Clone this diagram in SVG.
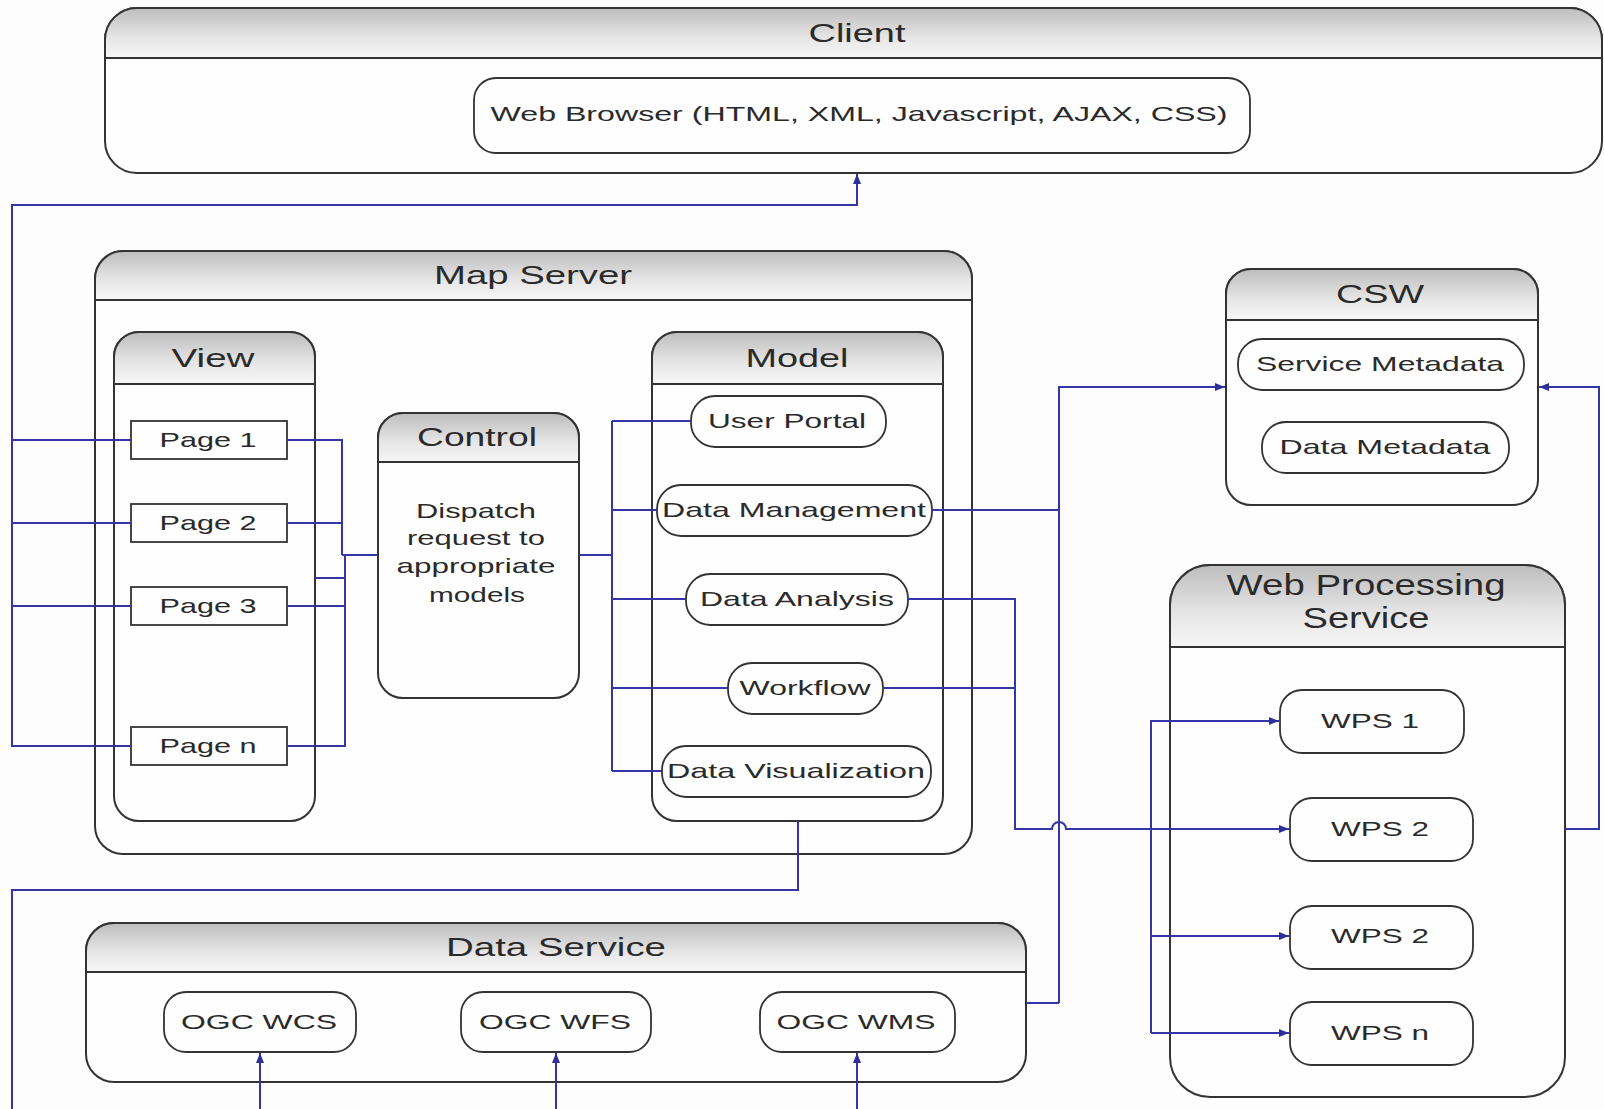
<svg xmlns="http://www.w3.org/2000/svg" width="1604" height="1109" viewBox="0 0 1604 1109">
<defs>
<linearGradient id="hg" x1="0" y1="0" x2="0" y2="1">
<stop offset="0" stop-color="#bdbdbd"/>
<stop offset="0.6" stop-color="#e6e6e6"/>
<stop offset="1" stop-color="#f7f7f7"/>
</linearGradient>
<marker id="ar" markerUnits="userSpaceOnUse" markerWidth="10" markerHeight="8" refX="10" refY="4" orient="auto">
<path d="M0,0 L10,4 L0,8 Z" fill="#2f2f9a"/>
</marker>
</defs>
<style>
.box{fill:#fefefe;stroke:#333;stroke-width:2}
.hdr{fill:url(#hg);stroke:#333;stroke-width:2}
.itm{fill:#fefefe;stroke:#333;stroke-width:1.8}
.t{font-family:"Liberation Sans",Arial,sans-serif;fill:#2a2a2a;text-anchor:middle;font-size:21px}
.ti{font-family:"Liberation Sans",Arial,sans-serif;fill:#2a2a2a;text-anchor:middle;font-size:26px}
.c{fill:none;stroke:#3535a8;stroke-width:2}
</style>
<rect width="1604" height="1109" fill="#fdfdfd"/>

<g id="client">
<rect class="box" x="105" y="8" width="1497" height="165" rx="32"/>
<path class="hdr" d="M105,58 V40 A32,32 0 0 1 137,8 H1570 A32,32 0 0 1 1602,40 V58 Z"/>
<text class="ti" x="857" y="42" textLength="97" lengthAdjust="spacingAndGlyphs">Client</text>
</g>
<g id="web-browser">
<rect class="itm" x="474" y="78" width="776" height="75" rx="22"/>
<text class="t" x="859" y="121" textLength="737" lengthAdjust="spacingAndGlyphs">Web Browser (HTML, XML, Javascript, AJAX, CSS)</text>
</g>

<g id="map-server">
<rect class="box" x="95" y="251" width="877" height="603" rx="28"/>
<path class="hdr" d="M95,300 V279 A28,28 0 0 1 123,251 H944 A28,28 0 0 1 972,279 V300 Z"/>
<text class="ti" x="533" y="284" textLength="198" lengthAdjust="spacingAndGlyphs">Map Server</text>
</g>
<g id="view">
<rect class="box" x="114" y="332" width="201" height="489" rx="25"/>
<path class="hdr" d="M114,384 V357 A25,25 0 0 1 139,332 H290 A25,25 0 0 1 315,357 V384 Z"/>
<text class="ti" x="213" y="367" textLength="83" lengthAdjust="spacingAndGlyphs">View</text>
</g>
<g id="page-1"><rect class="itm" x="131" y="421" width="156" height="38"/><text class="t" x="208" y="447" textLength="97" lengthAdjust="spacingAndGlyphs">Page 1</text></g>
<g id="page-2"><rect class="itm" x="131" y="504" width="156" height="38"/><text class="t" x="208" y="530" textLength="97" lengthAdjust="spacingAndGlyphs">Page 2</text></g>
<g id="page-3"><rect class="itm" x="131" y="587" width="156" height="38"/><text class="t" x="208" y="613" textLength="97" lengthAdjust="spacingAndGlyphs">Page 3</text></g>
<g id="page-n"><rect class="itm" x="131" y="727" width="156" height="38"/><text class="t" x="208" y="753" textLength="97" lengthAdjust="spacingAndGlyphs">Page n</text></g>

<g id="control">
<rect class="box" x="378" y="413" width="201" height="285" rx="25"/>
<path class="hdr" d="M378,462 V438 A25,25 0 0 1 403,413 H554 A25,25 0 0 1 579,438 V462 Z"/>
<text class="ti" x="477" y="446" textLength="120" lengthAdjust="spacingAndGlyphs">Control</text>
<text class="t" x="476" y="518" textLength="120" lengthAdjust="spacingAndGlyphs">Dispatch</text>
<text class="t" x="476" y="545" textLength="138" lengthAdjust="spacingAndGlyphs">request to</text>
<text class="t" x="476" y="573" textLength="159" lengthAdjust="spacingAndGlyphs">appropriate</text>
<text class="t" x="477" y="602" textLength="96" lengthAdjust="spacingAndGlyphs">models</text>
</g>

<g id="model">
<rect class="box" x="652" y="332" width="291" height="489" rx="25"/>
<path class="hdr" d="M652,384 V357 A25,25 0 0 1 677,332 H918 A25,25 0 0 1 943,357 V384 Z"/>
<text class="ti" x="797" y="367" textLength="103" lengthAdjust="spacingAndGlyphs">Model</text>
</g>
<g id="user-portal"><rect class="itm" x="691" y="396" width="195" height="51" rx="24"/><text class="t" x="787" y="428" textLength="158" lengthAdjust="spacingAndGlyphs">User Portal</text></g>
<g id="data-management"><rect class="itm" x="657" y="485" width="275" height="51" rx="24"/><text class="t" x="794" y="517" textLength="264" lengthAdjust="spacingAndGlyphs">Data Management</text></g>
<g id="data-analysis"><rect class="itm" x="686" y="574" width="222" height="51" rx="24"/><text class="t" x="797" y="606" textLength="194" lengthAdjust="spacingAndGlyphs">Data Analysis</text></g>
<g id="workflow"><rect class="itm" x="728" y="663" width="155" height="51" rx="24"/><text class="t" x="805" y="695" textLength="131" lengthAdjust="spacingAndGlyphs">Workflow</text></g>
<g id="data-visualization"><rect class="itm" x="662" y="746" width="269" height="51" rx="24"/><text class="t" x="796" y="778" textLength="258" lengthAdjust="spacingAndGlyphs">Data Visualization</text></g>

<g id="csw">
<rect class="box" x="1226" y="269" width="312" height="236" rx="25"/>
<path class="hdr" d="M1226,320 V294 A25,25 0 0 1 1251,269 H1513 A25,25 0 0 1 1538,294 V320 Z"/>
<text class="ti" x="1380" y="303" textLength="88" lengthAdjust="spacingAndGlyphs">CSW</text>
</g>
<g id="service-metadata"><rect class="itm" x="1238" y="339" width="286" height="51" rx="24"/><text class="t" x="1380" y="371" textLength="248" lengthAdjust="spacingAndGlyphs">Service Metadata</text></g>
<g id="data-metadata"><rect class="itm" x="1262" y="422" width="247" height="51" rx="24"/><text class="t" x="1385" y="454" textLength="211" lengthAdjust="spacingAndGlyphs">Data Metadata</text></g>

<g id="wps">
<rect class="box" x="1170" y="565" width="395" height="532" rx="40"/>
<path class="hdr" d="M1170,647 V605 A40,40 0 0 1 1210,565 H1525 A40,40 0 0 1 1565,605 V647 Z"/>
<text class="ti" x="1366" y="595" textLength="279" lengthAdjust="spacingAndGlyphs" style="font-size:29px">Web Processing</text>
<text class="ti" x="1366" y="628" textLength="127" lengthAdjust="spacingAndGlyphs" style="font-size:29px">Service</text>
</g>
<g id="wps-1"><rect class="itm" x="1280" y="690" width="184" height="63" rx="22"/><text class="t" x="1370" y="728" textLength="98" lengthAdjust="spacingAndGlyphs">WPS 1</text></g>
<g id="wps-2"><rect class="itm" x="1290" y="798" width="183" height="63" rx="22"/><text class="t" x="1380" y="836" textLength="98" lengthAdjust="spacingAndGlyphs">WPS 2</text></g>
<g id="wps-2b"><rect class="itm" x="1290" y="906" width="183" height="63" rx="22"/><text class="t" x="1380" y="943" textLength="98" lengthAdjust="spacingAndGlyphs">WPS 2</text></g>
<g id="wps-n"><rect class="itm" x="1290" y="1002" width="183" height="63" rx="22"/><text class="t" x="1380" y="1040" textLength="98" lengthAdjust="spacingAndGlyphs">WPS n</text></g>

<g id="data-service">
<rect class="box" x="86" y="923" width="940" height="159" rx="28"/>
<path class="hdr" d="M86,972 V951 A28,28 0 0 1 114,923 H998 A28,28 0 0 1 1026,951 V972 Z"/>
<text class="ti" x="556" y="956" textLength="220" lengthAdjust="spacingAndGlyphs">Data Service</text>
</g>
<g id="ogc-wcs"><rect class="itm" x="164" y="992" width="192" height="60" rx="22"/><text class="t" x="259" y="1029" textLength="156" lengthAdjust="spacingAndGlyphs">OGC WCS</text></g>
<g id="ogc-wfs"><rect class="itm" x="461" y="992" width="190" height="60" rx="22"/><text class="t" x="555" y="1029" textLength="152" lengthAdjust="spacingAndGlyphs">OGC WFS</text></g>
<g id="ogc-wms"><rect class="itm" x="760" y="992" width="195" height="60" rx="22"/><text class="t" x="856" y="1029" textLength="159" lengthAdjust="spacingAndGlyphs">OGC WMS</text></g>

<g id="connectors">
<path class="c" d="M131,746 H12 V205 H857 V174" marker-end="url(#ar)"/>
<path class="c" d="M12,440 H131 M12,523 H131 M12,606 H131"/>
<path class="c" d="M287,440 H342 V555 M287,523 H342 M342,555 H378 M287,606 H345 M287,746 H345 V555 M315,578 H345"/>
<path class="c" d="M579,555 H612 M612,421 V771 M612,421 H691 M612,510 H657 M612,599 H686 M612,688 H728 M612,771 H662"/>
<path class="c" d="M932,510 H1059 M1026,1003 H1059"/>
<path class="c" d="M1059,1003 V387 H1225" marker-end="url(#ar)"/>
<path class="c" d="M883,688 H1015"/>
<path class="c" d="M908,599 H1015 V829 H1052 A7,7 0 0 1 1066,829 H1289" marker-end="url(#ar)"/>
<path class="c" d="M1151,720 V1033"/>
<path class="c" d="M1151,721 H1279" marker-end="url(#ar)"/>
<path class="c" d="M1151,936 H1289" marker-end="url(#ar)"/>
<path class="c" d="M1151,1033 H1289" marker-end="url(#ar)"/>
<path class="c" d="M1565,829 H1599 V387 H1539" marker-end="url(#ar)"/>
<path class="c" d="M798,821 V890 H12 V1112"/>
<path class="c" d="M260,1112 V1053" marker-end="url(#ar)"/>
<path class="c" d="M556,1112 V1053" marker-end="url(#ar)"/>
<path class="c" d="M857,1112 V1053" marker-end="url(#ar)"/>
</g>
</svg>
